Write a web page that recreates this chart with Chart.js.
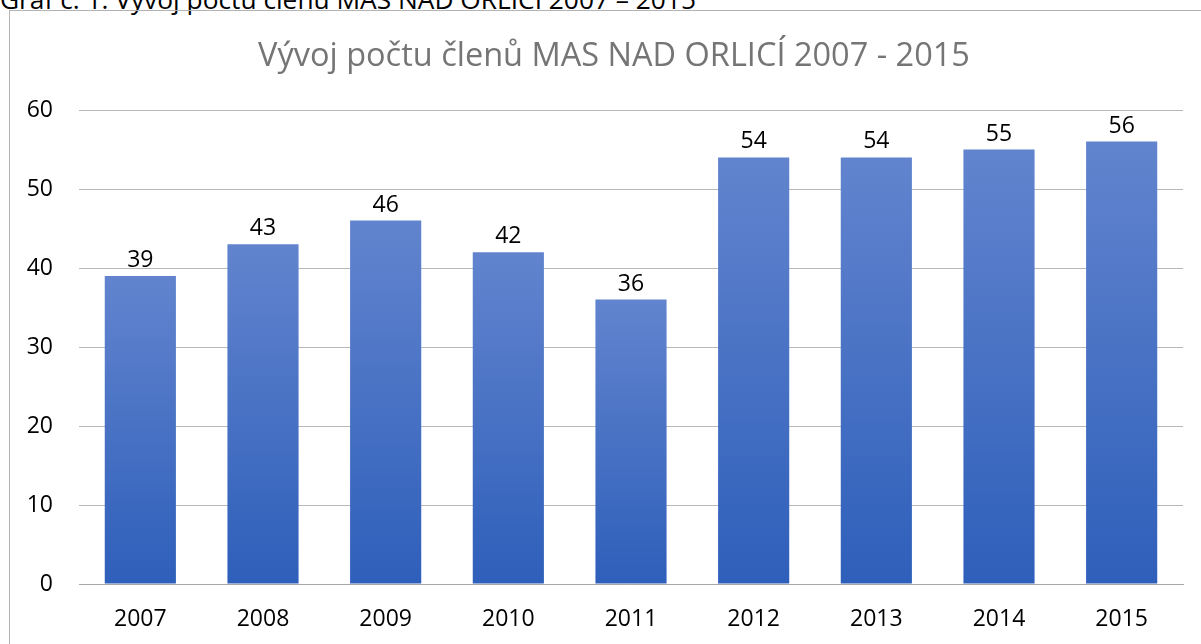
<!DOCTYPE html>
<html>
<head>
<meta charset="utf-8">
<script src="https://cdn.jsdelivr.net/npm/chart.js@4.4.0/dist/chart.umd.min.js"></script>
<style>
    html, body { margin: 0; padding: 0; background: #fff; overflow: hidden; }
    #wrap { position: relative; width: 1201px; height: 644px; }
    #caption {
        position: absolute; left: 0; top: -19px;
        font: 26.3px "Open Sans", sans-serif; color: #000; white-space: nowrap;
    }
    #frame {
        position: absolute; left: 9px; top: 10px; width: 1200px; height: 700px;
        border: 1px solid #b3b3b3;
    }
    canvas { position: absolute; left: 0; top: 0; }
</style>
</head>
<body>
<div id="wrap">
    <div id="caption">Graf č. 1: Vývoj počtu členů MAS NAD ORLICÍ 2007 – 2015</div>
    <div id="frame"></div>
    <canvas id="membersChart" width="1201" height="644"></canvas>
</div>
<script>
    const chartTitle = 'Vývoj počtu členů MAS NAD ORLICÍ 2007 - 2015';
    const years = ['2007', '2008', '2009', '2010', '2011', '2012', '2013', '2014', '2015'];
    const members = [39, 43, 46, 42, 36, 54, 54, 55, 56];
    const yTicks = [0, 10, 20, 30, 40, 50, 60];

    // per-bar vertical gradient (lighter on top, like the Excel fill)
    function barFill(context) {
        const chart = context.chart;
        const yScale = chart.scales.y;
        if (!yScale || context.dataIndex === undefined) return '#4a75c6';
        const top = yScale.getPixelForValue(context.raw);
        const bottom = yScale.getPixelForValue(0);
        if (!isFinite(top) || !isFinite(bottom) || top === bottom) return '#4a75c6';
        const g = chart.ctx.createLinearGradient(0, top, 0, bottom);
        g.addColorStop(0, 'rgb(98, 132, 206)');
        g.addColorStop(1, 'rgb(46, 95, 186)');
        return g;
    }

    // value labels above bars
    const valueLabels = {
        id: 'valueLabels',
        afterDatasetsDraw(chart) {
            const ctx = chart.ctx;
            const meta = chart.getDatasetMeta(0);
            ctx.save();
            ctx.font = '23px "Open Sans", sans-serif';
            ctx.fillStyle = '#000';
            ctx.textAlign = 'center';
            ctx.textBaseline = 'bottom';
            meta.data.forEach(function (bar, i) {
                ctx.fillText(members[i], bar.x, bar.y - 4);
            });
            ctx.restore();
        }
    };

    // title centred on the chart frame (not on the canvas)
    const frameTitle = {
        id: 'frameTitle',
        afterDraw(chart) {
            const ctx = chart.ctx;
            ctx.save();
            ctx.font = '32.5px "Open Sans", sans-serif';
            ctx.fillStyle = '#757575';
            ctx.textAlign = 'center';
            ctx.textBaseline = 'middle';
            ctx.fillText(chartTitle, 614, 57);
            ctx.restore();
        }
    };

    const ctx = document.getElementById('membersChart').getContext('2d');
    const membersChart = new Chart(ctx, {
        type: 'bar',
        data: {
            labels: years,
            datasets: [{
                label: 'Počet členů',
                data: members,
                backgroundColor: barFill,
                borderWidth: 0,
                barPercentage: 0.58,
                categoryPercentage: 1.0
            }]
        },
        options: {
            responsive: false,
            animation: false,
            layout: {
                padding: { left: 20, right: 18, top: 110, bottom: 0 }
            },
            plugins: {
                legend: { display: false },
                tooltip: { enabled: false },
                title: { display: false }
            },
            scales: {
                x: {
                    grid: { display: false, drawTicks: false },
                    border: { color: '#a6a6a6', width: 1 },
                    ticks: {
                        color: '#000',
                        padding: 22,
                        font: { family: '"Open Sans", sans-serif', size: 23 }
                    },
                    afterFit: function (scale) { scale.height = 60; }
                },
                y: {
                    min: 0,
                    max: 60,
                    afterBuildTicks: function (scale) {
                        scale.ticks = yTicks.map(function (v) { return { value: v }; });
                    },
                    grid: { color: '#b8b8b8', drawTicks: false },
                    border: { display: false },
                    ticks: {
                        color: '#000',
                        padding: 26,
                        font: { family: '"Open Sans", sans-serif', size: 23 }
                    },
                    afterFit: function (scale) { scale.width = 59; }
                }
            }
        },
        plugins: [valueLabels, frameTitle]
    });
</script>
</body>
</html>
